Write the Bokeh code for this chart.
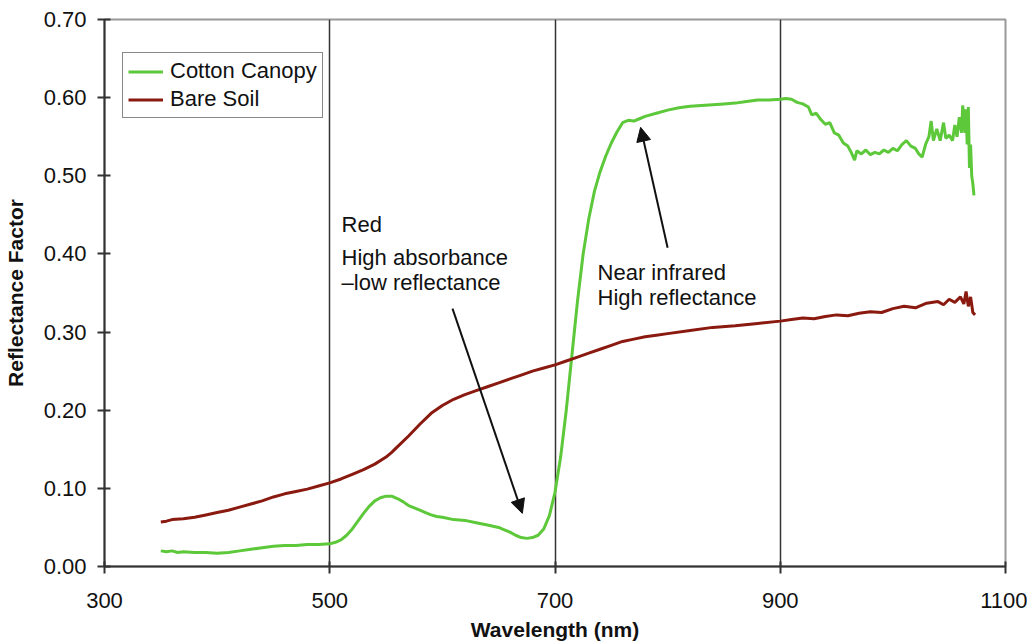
from bokeh.plotting import figure
from bokeh.models import FixedTicker, PrintfTickFormatter, Label, Arrow, NormalHead, Range1d
from bokeh.embed import file_html
from bokeh.resources import INLINE

# ---- data ----
cotton_wl = [350, 355, 360, 365, 370, 380, 390, 400, 410, 420, 430, 440, 450, 460, 470, 480, 490, 500,
             505, 510, 515, 520, 525, 530, 535, 540, 545, 550, 555, 560, 565, 570, 575, 580, 585, 590, 595,
             600, 610, 620, 630, 640, 650, 655, 660, 665, 670, 675, 680, 685, 690, 695, 700, 705, 710, 715,
             720, 725, 730, 735, 740, 745, 750, 755, 760, 765, 770, 775, 780, 790, 800, 810, 820, 830, 840,
             850, 860, 870, 880, 890, 900, 905, 910, 915, 920, 925, 928, 932, 936, 940, 944, 948, 952, 956,
             960, 963, 966, 968, 972, 976, 980, 984, 988, 992, 996, 1000, 1004, 1008, 1012, 1016, 1020, 1023,
             1026, 1029, 1032, 1034, 1036, 1039, 1042, 1045, 1047, 1050, 1053, 1055, 1057, 1059, 1061, 1062,
             1064, 1065, 1066, 1067, 1068, 1069, 1070, 1071, 1072]
cotton_rf = [.020, .019, .020, .018, .019, .018, .018, .017, .018, .020, .022, .024, .026, .027, .027, .028, .028, .029,
             .031, .034, .040, .048, .058, .068, .077, .084, .088, .090, .090, .087, .083, .078, .075, .072, .069, .066, .064,
             .063, .060, .059, .056, .053, .050, .047, .044, .040, .037, .036, .037, .040, .048, .065, .095, .140, .200, .270,
             .340, .400, .445, .480, .505, .525, .542, .556, .568, .571, .570, .573, .576, .580, .584, .587, .589, .590, .591,
             .592, .593, .595, .597, .597, .598, .599, .598, .594, .592, .588, .578, .580, .572, .566, .568, .555, .552, .542,
             .538, .530, .520, .532, .528, .533, .527, .530, .528, .533, .530, .535, .532, .540, .545, .538, .535, .528,
             .524, .540, .550, .570, .545, .560, .545, .568, .548, .552, .545, .565, .550, .575, .555, .590,
             .555, .585, .540, .588, .510, .540, .500, .490, .475]

soil_wl = [350, 355, 360, 370, 380, 390, 400, 410, 420, 430, 440, 450, 460, 470, 480, 490, 500, 510, 520, 530,
           540, 550, 555, 560, 570, 580, 590, 600, 610, 620, 630, 640, 650, 660, 670, 680, 690, 700, 710, 720,
           730, 740, 750, 760, 770, 780, 790, 800, 820, 840, 860, 880, 900, 910, 920, 930, 940, 950, 960, 970,
           980, 990, 1000, 1010, 1020, 1030, 1040, 1045, 1050, 1055, 1060, 1063, 1065, 1067, 1069, 1071, 1073]
soil_rf = [.057, .058, .060, .061, .063, .066, .069, .072, .076, .080, .084, .089, .093, .096, .099, .103, .107, .112, .118, .124,
           .131, .140, .146, .153, .167, .182, .196, .206, .214, .220, .225, .230, .235, .240, .245, .250, .254, .258, .263, .268,
           .273, .278, .283, .288, .291, .294, .296, .298, .302, .306, .308, .311, .314, .316, .318, .317, .320, .322, .321, .324,
           .326, .325, .330, .333, .331, .337, .339, .335, .342, .338, .345, .336, .352, .333, .345, .325, .322]

x_ticks = [300, 500, 700, 900, 1100]
y_ticks = [0, 0.1, 0.2, 0.3, 0.4, 0.5, 0.6, 0.7]
grid_ticks = [500, 700, 900]

FONT = "Liberation Sans"
GREEN = "#5cc83a"
RED = "#8a1a10"
INK = "#111111"

p = figure(width=1027, height=644, output_backend="svg", toolbar_location=None,
           x_range=Range1d(300, 1100), y_range=Range1d(0, 0.70),
           min_border_left=104, min_border_right=22, min_border_top=19, min_border_bottom=78)

p.line(cotton_wl, cotton_rf, line_color=GREEN, line_width=3, legend_label="Cotton Canopy")
p.line(soil_wl, soil_rf, line_color=RED, line_width=3, legend_label="Bare Soil")

# axes
p.xaxis.ticker = FixedTicker(ticks=x_ticks)
p.yaxis.ticker = FixedTicker(ticks=y_ticks)
p.yaxis.formatter = PrintfTickFormatter(format="%.2f")
for ax in (p.xaxis, p.yaxis):
    ax.axis_line_color = "#333333"
    ax.axis_line_width = 2
    ax.major_tick_line_color = "#333333"
    ax.major_tick_line_width = 2
    ax.major_tick_out = 7
    ax.major_tick_in = 6
    ax.minor_tick_line_color = None
    ax.major_label_text_font = FONT
    ax.major_label_text_font_size = "22px"
    ax.major_label_text_color = INK
    ax.axis_label_text_font = FONT
    ax.axis_label_text_font_size = "21px"
    ax.axis_label_text_font_style = "bold"
    ax.axis_label_text_color = INK
p.xaxis.major_tick_in = 5
p.xaxis.major_label_standoff = 19
p.xaxis.axis_label = "Wavelength (nm)"
p.xaxis.axis_label_standoff = 7
p.yaxis.major_label_standoff = 11
p.yaxis.axis_label = "Reflectance Factor"
p.yaxis.axis_label_standoff = 14

p.xgrid.ticker = FixedTicker(ticks=grid_ticks)
p.xgrid.grid_line_color = "#333333"
p.xgrid.grid_line_width = 1.5
p.ygrid.grid_line_color = None

p.outline_line_color = "#999999"
p.outline_line_width = 2

# annotations
for txt, xx, yy in [("Red", 510.5, 0.438), ("High absorbance", 510.5, 0.396), ("\u2013low reflectance", 510.5, 0.364),
                    ("Near infrared", 737.8, 0.376), ("High reflectance", 737.8, 0.344)]:
    p.add_layout(Label(x=xx, y=yy, text=txt, text_font=FONT, text_font_size="22px",
                       text_color=INK, text_baseline="alphabetic"))

p.add_layout(Arrow(x_start=609, y_start=0.330, x_end=671, y_end=0.068,
                   line_color=INK, line_width=2,
                   end=NormalHead(size=14, fill_color=INK, line_color=INK)))
p.add_layout(Arrow(x_start=800, y_start=0.408, x_end=776, y_end=0.562,
                   line_color=INK, line_width=2,
                   end=NormalHead(size=14, fill_color=INK, line_color=INK)))

# legend
lg = p.legend[0]
lg.location = (18, 448)
lg.border_line_color = INK
lg.border_line_width = 1.5
lg.background_fill_color = "white"
lg.background_fill_alpha = 1
lg.label_text_font = FONT
lg.label_text_font_size = "22px"
lg.label_text_color = INK
lg.glyph_width = 35
lg.glyph_height = 25
lg.label_height = 25
lg.label_standoff = 7
lg.padding = 5
lg.spacing = 2
lg.margin = 0

open("out.html", "w").write(file_html(p, INLINE))
